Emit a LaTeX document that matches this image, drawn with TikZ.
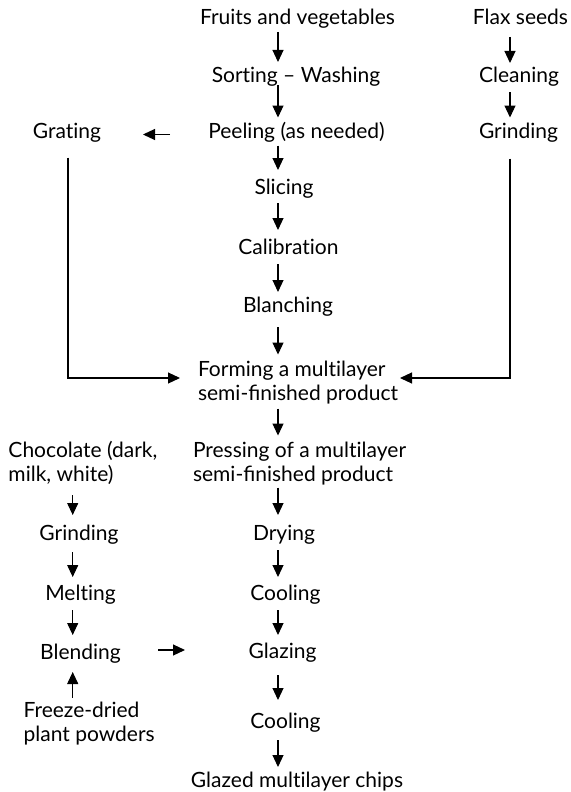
\documentclass[tikz,border=0pt]{standalone}
\usepackage{fontspec}
\setmainfont{Lato}[Ligatures={NoCommon}]
\usetikzlibrary{arrows.meta,calc}
\begin{document}
\begin{tikzpicture}[x=1pt,y=-1pt,
  every node/.style={font=\fontsize{21}{24}\selectfont, inner sep=0pt, outer sep=0pt},
  lbl/.style={text height=15pt, text depth=7pt, anchor=base},
  ml/.style={align=left, anchor=base west},
  arr/.style={-{Triangle[length=12pt,width=11pt]}, line width=1.1pt},
  sh/.style 2 args={shorten <=#1pt, shorten >=#2pt},
]
\useasboundingbox (0,0) rectangle (570,792);
% column coordinates
\coordinate (cc) at (278,0);
\coordinate (lc) at (72.7,0);
\coordinate (rc) at (510,0);
\coordinate (gl) at (68,0);
\coordinate (pa) at (170,0);
\coordinate (pb) at (143,0);
\coordinate (ba) at (158,0);
\coordinate (bb) at (185,0);
\coordinate (ltip) at (180,378);
\coordinate (rtip) at (400,378);
% centre column
\node[lbl] (fruit) at (297.5,25) {Fruits and vegetables};
\node[lbl] (sort)  at (296,82) {Sorting – Washing};
\node[lbl] (peel)  at (296.5,138.5) {Peeling (as needed)};
\node[lbl] (slic)  at (284,194) {Slicing};
\node[lbl] (cali)  at (288.5,254) {Calibration};
\node[lbl] (blan)  at (288,312) {Blanching};
\node[ml]  (form)  at (198,400) {Forming a multilayer\\semi-ﬁnished product};
\node[ml]  (pres)  at (193,481) {Pressing of a multilayer\\semi-ﬁnished product};
\node[lbl] (dry)   at (284,540) {Drying};
\node[lbl] (cool)  at (285.5,600) {Cooling};
\node[lbl] (glaz)  at (282.5,658) {Glazing};
\node[lbl] (coolb) at (285.5,728) {Cooling};
\node[lbl] (chips) at (297,787) {Glazed multilayer chips};
% right column
\node[lbl] (flax)  at (520.5,25) {Flax seeds};
\node[lbl] (clea)  at (519,82) {Cleaning};
\node[lbl] (grr)   at (518.5,138.5) {Grinding};
% left column
\node[lbl] (grat)  at (67,138.5) {Grating};
\node[ml]  (choc)  at (8.5,481) {Chocolate (dark,\\milk, white)};
\node[lbl] (grl)   at (79,540) {Grinding};
\node[lbl] (melt)  at (80.5,600) {Melting};
\node[lbl] (blend) at (80.5,659) {Blending};
\node[ml]  (frz)   at (23.6,741) {Freeze-dried\\plant powders};
% centre arrows
\draw[arr, sh={0}{5}]  (fruit.south -| cc) -- (sort.north -| cc);
\draw[arr, sh={-4}{6}] (sort.south -| cc) -- (peel.north -| cc);
\draw[arr, sh={0}{9}]  (peel.south -| cc) -- (slic.north -| cc);
\draw[arr, sh={2}{9}]  (slic.south -| cc) -- (cali.north -| cc);
\draw[arr, sh={3}{5}]  (cali.south -| cc) -- (blan.north -| cc);
\draw[arr, sh={8}{6}]  (blan.south -| cc) -- (form.north -| cc);
\draw[arr, sh={5}{6}]  (form.south -| cc) -- (pres.north -| cc);
\draw[arr, sh={3}{10}] (pres.south -| cc) -- (dry.north -| cc);
\draw[arr, sh={3}{8}]  (dry.south -| cc) -- (cool.north -| cc);
\draw[arr, sh={3}{8}]  (cool.south -| cc) -- (glaz.north -| cc);
\draw[arr, sh={10}{13}] (glaz.south -| cc) -- (coolb.north -| cc);
\draw[arr, sh={5}{5}]  (coolb.south -| cc) -- (chips.north -| cc);
% right arrows
\draw[arr, sh={5}{4}]  (flax.south -| rc) -- (clea.north -| rc);
\draw[arr, sh={3}{6}]  (clea.south -| rc) -- (grr.north -| rc);
\draw[arr, shorten <=13pt] (grr.south -| rc) |- (rtip);
% left arrows
\draw[arr] (pa |- peel.west) -- (pb |- grat.east);
\draw[arr, shorten <=12pt] (grat.south -| gl) |- (ltip);
\draw[arr, sh={11}{10}] (choc.south -| lc) -- (grl.north -| lc);
\draw[arr, sh={5}{8}]  (grl.south -| lc) -- (melt.north -| lc);
\draw[arr, sh={3}{9}]  (melt.south -| lc) -- (blend.north -| lc);
\draw[arr, sh={4}{6}]  (frz.north -| lc) -- (blend.south -| lc);
\draw[arr] ($(ba |- blend.center)+(0,-5)$) -- ($(bb |- glaz.center)+(0,-4)$);
\end{tikzpicture}
\end{document}
